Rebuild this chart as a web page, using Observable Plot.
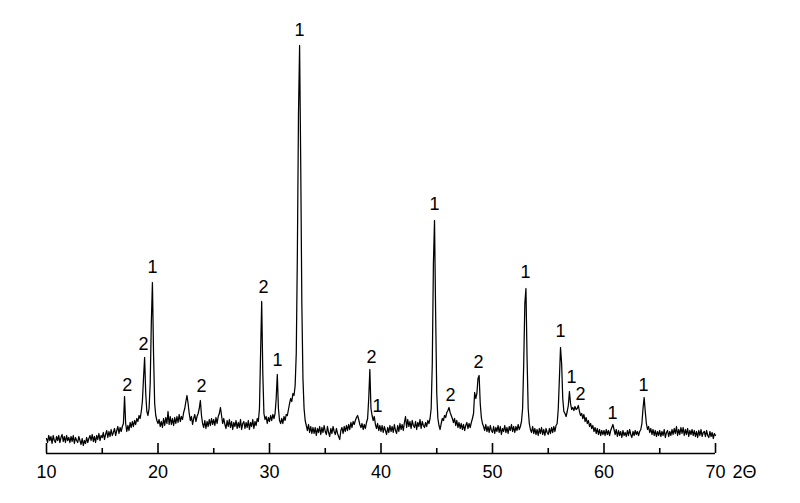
<!DOCTYPE html>
<html><head><meta charset="utf-8">
<script src="https://cdn.jsdelivr.net/npm/d3@7"></script>
<script src="https://cdn.jsdelivr.net/npm/@observablehq/plot@0.6"></script>
<style>html,body{margin:0;padding:0;background:#fff}</style>
</head><body><div id="chart"></div>
<script>
// XRD scan: 2θ from 10° to 70°, step 0.1°
const scanStart = 10;
const scanStep = 0.1;
const intensity = [
// 10
15,11,18,13,17,10,18,13,11,17,
// 11
13,18,11,16,19,12,17,11,18,13,
// 12
16,11,17,12,18,10,16,13,11,17,
// 13
13,9,15,8,13,10,16,11,15,18,
// 14
13,19,12,17,11,18,14,20,13,18,
// 15
16,21,14,19,23,16,22,17,24,18,
// 16
21,25,18,23,27,20,26,22,27,30,
// 17
57,30,22,28,23,31,26,32,27,33,
// 18
29,35,32,38,35,42,52,75,96,60,
// 19
42,38,45,70,130,171,100,50,38,33,
// 20
30,34,27,32,26,35,28,36,30,42,
// 21
29,37,29,35,28,36,30,37,31,39,
// 22
32,37,34,41,45,52,58,50,40,33,
// 23
37,29,35,39,32,37,40,45,53,38,
// 24
30,26,33,25,32,27,34,28,35,29,
// 25
34,28,36,30,37,40,46,38,30,35,
// 26
29,25,33,27,34,26,32,24,31,27,
// 27
33,25,31,26,34,24,30,32,25,31,
// 28
26,33,24,31,27,34,25,32,28,35,
// 29
32,45,100,152,80,40,34,37,30,36,
// 30
32,38,33,39,35,40,55,79,45,33,
// 31
30,35,30,37,33,39,38,44,50,55,
// 32
52,60,58,68,100,200,340,408,290,150,
// 33
75,45,33,28,23,29,21,27,20,26,
// 34
20,26,18,25,21,27,19,26,21,28,
// 35
22,19,27,21,17,25,20,27,22,19,
// 36
25,20,17,14,23,26,20,27,22,28,
// 37
23,29,24,31,26,32,29,33,36,38,
// 38
34,29,26,30,24,29,25,31,35,55,
// 39
84,45,38,33,37,29,25,30,23,28,
// 40
22,28,21,27,23,19,26,21,28,22,
// 41
27,21,29,23,20,28,22,30,24,29,
// 42
23,31,37,26,34,27,32,25,33,28,
// 43
26,32,24,31,27,34,25,32,28,26,
// 44
31,27,33,30,35,45,90,190,233,140,
// 45
60,35,28,24,30,35,33,38,36,41,
// 46
43,46,41,38,35,31,35,28,33,26,
// 47
31,25,30,24,29,23,28,31,25,30,
// 48
26,31,35,40,61,55,60,75,78,50,
// 49
36,30,27,23,29,22,27,21,28,23,
// 50
21,27,20,26,22,28,21,27,19,25,
// 51
22,28,21,26,20,27,23,29,22,27,
// 52
21,27,23,29,24,27,32,45,90,150,
// 53
165,95,45,30,24,21,27,20,25,19,
// 54
24,18,25,20,26,19,24,18,25,21,
// 55
19,25,20,26,21,27,22,28,30,45,
// 56
75,106,90,55,42,40,37,42,48,62,
// 57
50,44,46,43,47,44,45,48,42,38,
// 58
40,35,39,32,36,30,33,27,30,25,
// 59
28,22,26,20,25,19,24,18,23,19,
// 60
23,18,24,19,23,18,23,26,29,24,
// 61
19,24,17,23,18,22,16,23,18,21,
// 62
17,23,18,24,19,16,22,18,23,19,
// 63
22,18,22,24,30,45,56,42,30,24,
// 64
27,21,25,19,24,18,23,17,22,18,
// 65
23,17,22,18,24,16,21,23,17,22,
// 66
18,24,19,25,20,27,18,24,19,26,
// 67
20,26,18,24,19,25,17,23,19,24,
// 68
18,23,17,22,16,23,18,24,17,21,
// 69
22,17,23,18,16,22,17,21,15,20,
// 70
18
];

const majorTicks = [10, 20, 30, 40, 50, 60, 70];
const minorTicks = [15, 25, 35, 45, 55, 65];
const axisUnit = "2Θ";

// Phase labels above the peaks (2θ, intensity level, phase number)
const peakLabelX = [17.25, 18.70, 19.51, 23.90, 29.46, 30.72, 32.69, 39.15, 39.69, 44.80, 46.23, 48.74, 52.96, 56.10, 57.09, 57.89, 60.76, 63.54];
const peakLabelY = [68, 109, 186, 67, 166, 93, 423, 96, 47, 249, 58, 91, 181, 122, 76, 59, 40, 68];
const peakLabelText = ["2", "2", "1", "2", "2", "1", "1", "2", "1", "1", "2", "2", "1", "1", "1", "2", "1", "1"];

const pattern = intensity.map((v, i) => ({x: +(scanStart + i * scanStep).toFixed(2), y: v}));
const labels = peakLabelText.map((t, i) => ({x: peakLabelX[i], y: peakLabelY[i], t}));

const chart = Plot.plot({
  width: 800,
  height: 503,
  marginLeft: 46,
  marginRight: 85,
  marginTop: 23,
  marginBottom: 50,
  style: {fontFamily: "'Liberation Sans', Arial, sans-serif", background: "#fff", color: "#000"},
  x: {domain: [10, 70]},
  y: {domain: [0, 430], axis: null},
  marks: [
    Plot.line(pattern, {x: "x", y: "y", stroke: "#000", strokeWidth: 1.25}),
    Plot.ruleY([0], {stroke: "#000", strokeWidth: 1.6}),
    Plot.axisX(majorTicks, {anchor: "bottom", tickSize: -10, tickFormat: () => "", label: null, strokeWidth: 1.6}),
    Plot.axisX(minorTicks, {anchor: "bottom", tickSize: -5, tickFormat: () => "", label: null, strokeWidth: 1.6}),
    Plot.axisX(majorTicks, {anchor: "bottom", tickSize: 0, tickPadding: 12, fontSize: 18, label: null, tickFormat: d => String(d)}),
    Plot.text([axisUnit], {frameAnchor: "bottom-right", text: d => d, dx: 17, dy: 12, textAnchor: "start", lineAnchor: "top", fontSize: 18}),
    Plot.text(labels, {x: "x", y: "y", text: "t", fontSize: 18, lineAnchor: "middle", fill: "#000"})
  ]
});
document.getElementById("chart").appendChild(chart);
</script>
</body></html>
